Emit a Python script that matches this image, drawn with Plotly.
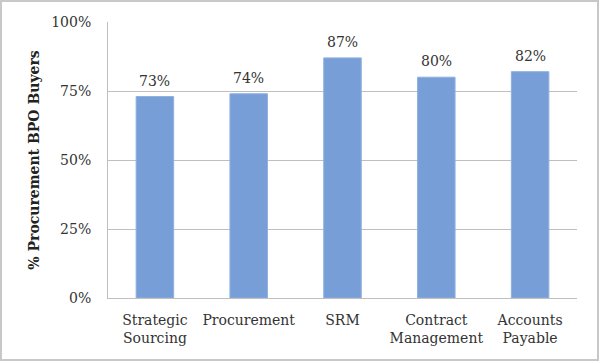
import plotly.graph_objects as go

categories = ["Strategic<br>Sourcing", "Procurement", "SRM", "Contract<br>Management", "Accounts<br>Payable"]
values = [73, 74, 87, 80, 82]
tick_vals = [0, 25, 50, 75, 100]
tick_text = ["0%", "25%", "50%", "75%", "100%"]
y_title = "% Procurement BPO Buyers"

FONT = "DejaVu Serif"
BAR = "#789ed7"
GRID = "#bfbfbf"

fig = go.Figure()
fig.add_trace(go.Bar(
    x=categories, y=values, width=0.4,
    marker=dict(color=BAR, line=dict(color="#8fb0e0", width=1)),
    hoverinfo="skip",
))

for c, v in zip(categories, values):
    fig.add_annotation(x=c, y=v, text=f"{v}%", showarrow=False,
                       yanchor="bottom", yshift=6,
                       font=dict(family=FONT, size=14, color="#333333"))

pw, ph = 469, 276
ml, mt = 108, 22
fig.add_shape(type="rect", xref="paper", yref="paper",
              x0=(1 - ml) / pw, x1=(598 - ml) / pw,
              y0=(298 - 360) / ph, y1=(298 - 1) / ph,
              line=dict(color="#c8c8c8", width=2), fillcolor="rgba(0,0,0,0)", layer="below")

fig.update_layout(
    width=600, height=361,
    margin=dict(l=ml, r=600 - 577, t=mt, b=361 - 298),
    paper_bgcolor="white", plot_bgcolor="white",
    showlegend=False,
    font=dict(family=FONT, size=14, color="#333333"),
    bargap=0.6,
)
fig.update_xaxes(
    showgrid=False, showline=True, linecolor=GRID, linewidth=1,
    ticks="", ticklabelstandoff=9,
    tickfont=dict(family=FONT, size=14, color="#333333"),
)
fig.update_yaxes(
    range=[0, 100], tickvals=tick_vals, ticktext=tick_text,
    showgrid=True, gridcolor=GRID, gridwidth=1,
    showline=True, linecolor=GRID, linewidth=1,
    zeroline=False, ticks="", ticklen=0, ticklabelstandoff=13,
    tickfont=dict(family=FONT, size=14, color="#333333"),
    title=dict(text=f"<b>{y_title}</b>", font=dict(family=FONT, size=14, color="#222222"), standoff=8),
)

fig.write_html("out.html", config={"displayModeBar": False},
               post_script="document.body.style.margin='0';document.body.style.padding='0';")
